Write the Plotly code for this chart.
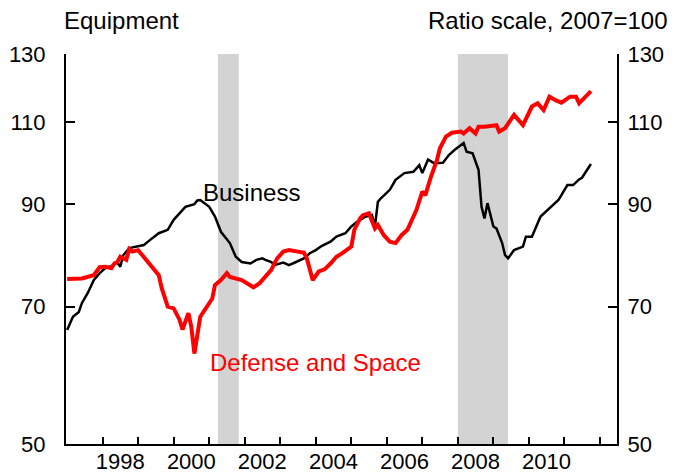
import math
import plotly.graph_objects as go

# ---- data (ratio scale, 2007=100) ----
business_dates = [
    "1997-01", "1997-03", "1997-05", "1997-06", "1997-08", "1997-09", "1997-10", "1997-12",
    "1998-02", "1998-04", "1998-06", "1998-07", "1998-08", "1998-10",
    "1999-01", "1999-03", "1999-05", "1999-08", "1999-11",
    "2000-01", "2000-05", "2000-08", "2000-09", "2000-10",
    "2001-01", "2001-03", "2001-05", "2001-08", "2001-10", "2001-12",
    "2002-03", "2002-05", "2002-07", "2002-08", "2002-10", "2002-11",
    "2003-02", "2003-04", "2003-06", "2003-09", "2003-11",
    "2004-01", "2004-03", "2004-06", "2004-08", "2004-11",
    "2005-01", "2005-03", "2005-06", "2005-08", "2005-09", "2005-10", "2005-11",
    "2006-02", "2006-04", "2006-07", "2006-10", "2006-12",
    "2007-01", "2007-03", "2007-05", "2007-08", "2007-10", "2007-12",
    "2008-03", "2008-04", "2008-06", "2008-08", "2008-09", "2008-10", "2008-11",
    "2009-01", "2009-02", "2009-04", "2009-05", "2009-06", "2009-08", "2009-11", "2009-12",
    "2010-02", "2010-05", "2010-08", "2010-11", "2010-12",
    "2011-02", "2011-04", "2011-06", "2011-07", "2011-10",
]
business_values = [
    66.1, 68.3, 69.1, 70.6, 72.4, 73.5, 74.7, 76.0,
    77.0, 77.3, 78.0, 77.2, 79.4, 80.8,
    81.1, 81.4, 82.4, 83.8, 84.5,
    86.6, 89.4, 90.0, 90.8, 90.9,
    89.4, 87.3, 84.1, 81.8, 79.1, 78.1,
    77.8, 78.5, 78.8, 78.5, 78.1, 77.5,
    78.0, 77.5, 78.0, 78.8, 79.8,
    80.4, 81.2, 82.1, 83.1, 83.8,
    85.2, 86.2, 87.3, 87.6, 85.2, 90.5, 91.3,
    93.2, 95.5, 97.1, 97.4, 99.0,
    97.1, 100.4, 99.5, 99.6, 101.5, 102.8,
    104.5, 102.3, 101.9, 97.9, 89.4, 86.9, 90.2,
    85.2, 84.8, 81.8, 79.4, 78.8, 80.4, 81.1, 83.1,
    83.1, 87.3, 89.1, 90.9, 92.0,
    94.3, 94.3, 95.6, 96.0, 99.3,
]

defense_dates = [
    "1997-01", "1997-06", "1997-10", "1997-12",
    "1998-02", "1998-04", "1998-05", "1998-06", "1998-07", "1998-09", "1998-10", "1998-11",
    "1999-01", "1999-03", "1999-06", "1999-08", "1999-09", "1999-11",
    "2000-01", "2000-03", "2000-04", "2000-06", "2000-07", "2000-08", "2000-10", "2000-12",
    "2001-02", "2001-03", "2001-05", "2001-07", "2001-08", "2001-12",
    "2002-04", "2002-06", "2002-08", "2002-10", "2002-11", "2002-12",
    "2003-02", "2003-04", "2003-07", "2003-09", "2003-10", "2003-12",
    "2004-02", "2004-04", "2004-06", "2004-08", "2004-10",
    "2005-01", "2005-02", "2005-04", "2005-05", "2005-07", "2005-09", "2005-10", "2005-12",
    "2006-02", "2006-04", "2006-06", "2006-08", "2006-11",
    "2007-01", "2007-02", "2007-04", "2007-06", "2007-07", "2007-09", "2007-11",
    "2008-02", "2008-03", "2008-05", "2008-07", "2008-08", "2008-10",
    "2009-02", "2009-03", "2009-05", "2009-08", "2009-11",
    "2010-02", "2010-04", "2010-06", "2010-08", "2010-10", "2010-12",
    "2011-03", "2011-05", "2011-06", "2011-08", "2011-10",
]
defense_values = [
    74.9, 75.0, 75.6, 77.1,
    77.2, 76.9, 77.8, 78.1, 79.1, 78.5, 80.6, 80.1,
    80.4, 79.1, 76.9, 75.6, 73.2, 70.0,
    69.7, 67.8, 66.2, 68.9, 66.6, 62.4, 68.3, 69.7,
    71.4, 73.8, 74.7, 76.0, 75.3, 74.7,
    73.4, 74.1, 75.3, 76.6, 77.8, 78.8,
    80.1, 80.4, 80.1, 79.9, 78.8, 74.7,
    76.3, 76.7, 77.8, 79.1, 79.8,
    81.1, 84.5, 86.9, 87.6, 88.0, 84.8, 85.5, 83.4,
    82.1, 81.8, 83.4, 84.5, 88.7,
    92.8, 92.0, 96.3, 100.3, 103.2, 106.2, 107.2,
    107.5, 107.0, 108.4, 107.0, 108.8, 108.8,
    109.2, 107.5, 108.4, 112.0, 109.2,
    114.3, 115.2, 113.3, 117.1, 116.1, 115.4,
    117.1, 117.1, 115.2, 117.1, 118.7,
]

recession_starts = ["2001-04-01", "2008-01-01"]
recession_ends = ["2001-11-01", "2009-06-01"]

y_ticks = [50, 70, 90, 110, 130]
year_ticks = [f"{y}-01-01" for y in range(1998, 2013)]
label_years = [1998, 2000, 2002, 2004, 2006, 2008, 2010]

FONT = "Liberation Sans, Arial, sans-serif"
y_range = [math.log10(50), math.log10(130)]
x_range = ["1996-12-20", "2012-06-25"]

fig = go.Figure()
fig.add_trace(go.Scatter(x=business_dates, y=business_values, mode="lines",
                         line=dict(color="black", width=2.5), hoverinfo="skip",
                         showlegend=False))
fig.add_trace(go.Scatter(x=defense_dates, y=defense_values, mode="lines",
                         line=dict(color="#ff0000", width=4), hoverinfo="skip",
                         showlegend=False))
# helper trace to show the overlaying axes
fig.add_trace(go.Scatter(x=business_dates[:1], y=business_values[:1], mode="markers",
                         marker=dict(opacity=0), xaxis="x2", yaxis="y2",
                         hoverinfo="skip", showlegend=False))

for s, e in zip(recession_starts, recession_ends):
    fig.add_shape(type="rect", xref="x", yref="paper", x0=s, x1=e, y0=0, y1=1,
                  fillcolor="#d3d3d3", line=dict(width=0), layer="below")

axis_font = dict(family=FONT, size=22, color="black")

# the page body keeps its default 8px margin, so the figure is 8px smaller
fig.update_layout(
    width=668, height=466,
    margin=dict(l=58, r=59, t=46, b=30),
    paper_bgcolor="white", plot_bgcolor="white",
    font=dict(family=FONT, color="black"),
    xaxis=dict(type="date", range=x_range, tickvals=year_ticks, ticktext=[""] * len(year_ticks),
               ticks="inside", ticklen=7, tickwidth=2, tickcolor="black",
               showline=True, linecolor="black", linewidth=2, showgrid=False,
               zeroline=False, fixedrange=True, automargin=False),
    xaxis2=dict(type="date", range=x_range, overlaying="x", anchor="y", side="bottom",
                tickvals=[f"{y}-07-01" for y in label_years],
                ticktext=[str(y) for y in label_years],
                ticks="", showline=False, showgrid=False, zeroline=False,
                tickfont=axis_font, ticklabelstandoff=2, automargin=False),
    yaxis=dict(type="log", range=y_range, tickvals=y_ticks, ticktext=[str(v) for v in y_ticks],
               ticks="inside", ticklen=9, tickwidth=2, tickcolor="black",
               showline=True, linecolor="black", linewidth=2, showgrid=False,
               zeroline=False, tickfont=axis_font, ticklabelstandoff=14, automargin=False),
    yaxis2=dict(type="log", range=y_range, overlaying="y", side="right", anchor="x",
                tickvals=y_ticks, ticktext=[str(v) for v in y_ticks],
                ticks="inside", ticklen=9, tickwidth=2, tickcolor="black",
                showline=True, linecolor="black", linewidth=2, showgrid=False,
                zeroline=False, tickfont=axis_font, ticklabelstandoff=4, automargin=False),
)

fig.add_annotation(xref="paper", yref="paper", x=-0.008, y=1.086, xanchor="left",
                   yanchor="middle", text="Equipment", showarrow=False,
                   font=dict(family=FONT, size=24, color="black"))
fig.add_annotation(xref="paper", yref="paper", x=1.0965, y=1.086, xanchor="right",
                   yanchor="middle", text="Ratio scale, 2007=100", showarrow=False,
                   font=dict(family=FONT, size=24, color="black"))
fig.add_annotation(xref="x", yref="y", x="2000-10-07", y=math.log10(92.5), xanchor="left",
                   yanchor="middle", text="Business", showarrow=False,
                   font=dict(family=FONT, size=24, color="black"))
fig.add_annotation(xref="x", yref="y", x="2000-12-20", y=math.log10(61.1), xanchor="left",
                   yanchor="middle", text="Defense and Space", showarrow=False,
                   font=dict(family=FONT, size=24, color="#ff0000"))

fig.write_html("out.html")
